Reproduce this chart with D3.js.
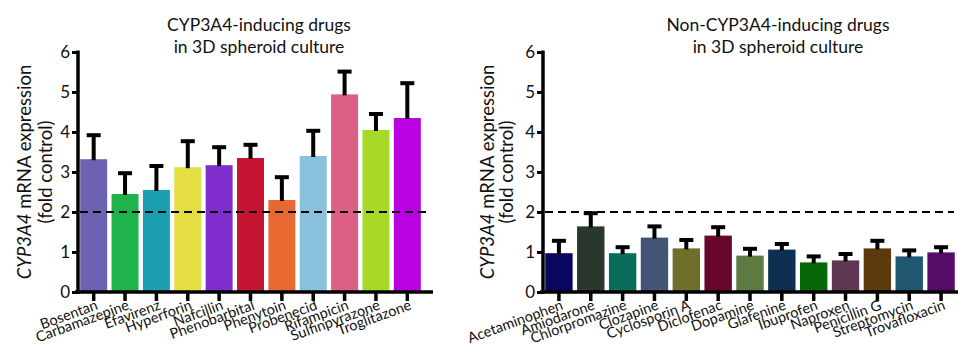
<!DOCTYPE html>
<html><head><meta charset="utf-8">
<script src="https://cdn.jsdelivr.net/npm/d3@7/dist/d3.min.js"></script>
<style>body{margin:0;background:#fff}svg{display:block}text{font-family:Lato,"Open Sans",sans-serif;fill:#111}</style>
</head><body><svg id="c" width="980" height="357"></svg>
<script>
const leftDrugs = ["Bosentan","Carbamazepine","Efavirenz","Hyperforin","Nafcillin","Phenobarbital","Phenytoin","Probenecid","Rifampicin","Sulfinpyrazone","Troglitazone"];
const leftMeans = [3.32,2.45,2.55,3.12,3.17,3.35,2.3,3.4,4.94,4.05,4.35];
const leftErrs  = [0.6,0.52,0.6,0.65,0.45,0.33,0.57,0.63,0.57,0.4,0.87];
const leftColors = ["#6d62b1","#1eb34b","#1aa0b0","#e4de43","#7f2dcd","#c61532","#e86831","#89c1dc","#de5f86","#a9d928","#b901e1"];

const rightDrugs = ["Acetaminophen","Amiodarone","Chlorpromazine","Clozapine","Cyclosporin A","Diclofenac","Dopamine","Glafenine","Ibuprofen","Naproxen","Penicillin G","Streptomycin","Trovafloxacin"];
const rightMeans = [0.97,1.64,0.97,1.36,1.09,1.41,0.91,1.06,0.74,0.79,1.09,0.89,0.99];
const rightErrs  = [0.31,0.33,0.15,0.28,0.21,0.21,0.17,0.14,0.15,0.16,0.19,0.15,0.13];
const rightColors = ["#08065e","#28382c","#086e5b","#445474","#6e6f2b","#66072b","#5b7b41","#0c2f52","#066807","#5f3752","#5c3a0e","#1f5770","#560b69"];

const yTicks = [0,1,2,3,4,5,6];
const threshold = 2;
const titleLines = [["CYP3A4-inducing drugs","in 3D spheroid culture"],["Non-CYP3A4-inducing drugs","in 3D spheroid culture"]];

const svg = d3.select("#c");

function panel(cfg){
  const {drugs, means, errs, colors, x0, x1, axisEnd, titleX, titles, labelX, gap} = cfg;
  const y = d3.scaleLinear().domain([0,6]).range([292,52]);
  const x = d3.scaleBand().domain(drugs).range([x0,x1]).paddingInner(0.14).paddingOuter(0.07);
  const g = svg.append("g");
  // title
  titles.forEach((t,i)=>g.append("text").attr("x",titleX).attr("y",31+i*22).attr("text-anchor","middle").attr("font-size",17.5).text(t));
  // y axis title
  const yt = g.append("text").attr("transform",`translate(${labelX},172) rotate(-90)`).attr("text-anchor","middle").attr("font-size",18.5);
  yt.append("tspan").attr("font-style","italic").text("CYP3A4");
  yt.append("tspan").text(" mRNA expression");
  g.append("text").attr("transform",`translate(${labelX+gap},172) rotate(-90)`).attr("text-anchor","middle").attr("font-size",18.5).text("(fold control)");
  // bars
  g.selectAll("rect.bar").data(drugs).enter().append("rect")
    .attr("x",d=>x(d)).attr("width",x.bandwidth())
    .attr("y",(d,i)=>y(means[i])).attr("height",(d,i)=>y(0)-y(means[i]))
    .attr("fill",(d,i)=>colors[i]);
  // error bars
  drugs.forEach((d,i)=>{
    const cx = x(d)+x.bandwidth()/2;
    g.append("line").attr("x1",cx).attr("x2",cx).attr("y1",y(means[i])+1).attr("y2",y(means[i]+errs[i])).attr("stroke","#000").attr("stroke-width",4);
    g.append("line").attr("x1",cx-7).attr("x2",cx+7).attr("y1",y(means[i]+errs[i])).attr("y2",y(means[i]+errs[i])).attr("stroke","#000").attr("stroke-width",4);
  });
  // dashed threshold
  g.append("line").attr("x1",x0+2).attr("x2",axisEnd-4).attr("y1",y(threshold)).attr("y2",y(threshold))
    .attr("stroke","#000").attr("stroke-width",2).attr("stroke-dasharray","8,5");
  // y axis
  const ya = g.append("g").attr("transform",`translate(${x0},0)`).call(d3.axisLeft(y).tickValues(yTicks).tickSize(6).tickPadding(2).tickFormat(d3.format("d")));
  ya.select(".domain").remove();
  ya.selectAll(".tick line").attr("stroke","#000").attr("stroke-width",3);
  ya.selectAll(".tick text").attr("font-size",17).style("font-family","Lato,sans-serif").attr("fill","#111");
  g.append("line").attr("x1",x0).attr("x2",x0).attr("y1",y(6)-1.5).attr("y2",y(0)+2).attr("stroke","#000").attr("stroke-width",3.5);
  // x axis
  const xa = g.append("g").attr("transform",`translate(0,${y(0)})`).call(d3.axisBottom(x).tickSize(9).tickPadding(6));
  xa.select(".domain").remove();
  xa.selectAll(".tick line").attr("stroke","#000").attr("stroke-width",3.5);
  xa.selectAll(".tick text").attr("font-size",14.5).style("font-family","Lato,sans-serif").attr("fill","#111")
    .attr("text-anchor","end").attr("y",0).attr("dy",0).attr("transform","translate(5,17) rotate(-20)");
  g.append("line").attr("x1",x0-3).attr("x2",axisEnd).attr("y1",y(0)).attr("y2",y(0)).attr("stroke","#000").attr("stroke-width",3.5);
}

panel({drugs:leftDrugs, means:leftMeans, errs:leftErrs, colors:leftColors, x0:78, x1:423, axisEnd:433, titleX:259, titles:titleLines[0], labelX:31, gap:21});
panel({drugs:rightDrugs, means:rightMeans, errs:rightErrs, colors:rightColors, x0:543, x1:957, axisEnd:958, titleX:778, titles:titleLines[1], labelX:494, gap:19});
</script></body></html>
